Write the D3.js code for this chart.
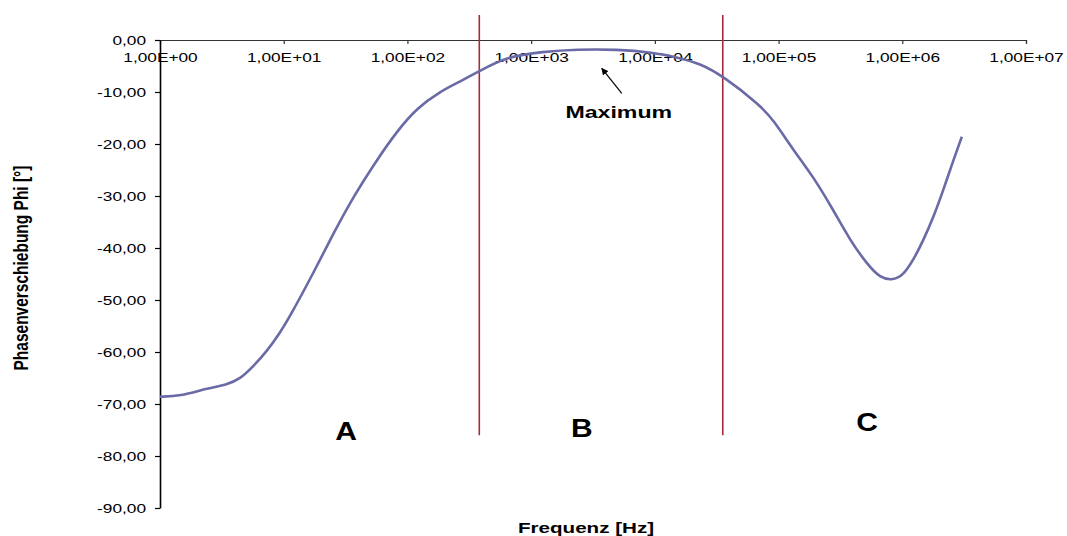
<!DOCTYPE html>
<html>
<head>
<meta charset="utf-8">
<script src="https://cdn.jsdelivr.net/npm/d3@7"></script>
<style>
  html, body { margin: 0; padding: 0; background: #fff; }
  svg { display: block; }
  text { font-family: "Liberation Sans", Arial, sans-serif; fill: #000; }
</style>
</head>
<body>
<svg id="chart" width="1067" height="536"></svg>
<script>
// Frequency sweep (Hz) and phase shift (degrees)
const frequency = [1, 1.45, 2.39, 3.46, 4.44, 5.65, 7.29, 9.33, 11.2, 17.3, 25.2, 36.6, 56.5, 82.0,
  119, 184, 266, 374, 635, 1250, 2340, 4920, 9660, 15000, 23200, 35400, 70800, 90800,
  132000, 191000, 277000, 378000, 516000, 662000, 847000, 1020000, 1230000, 1480000,
  1790000, 2150000, 2590000, 3030000];
const phase = [-68.6, -68.5, -67.0, -66.3, -65.2, -62.8, -59.9, -56.3, -53.2, -44.9, -37.2, -30.1,
  -23.1, -17.6, -13.1, -9.9, -8.0, -6.1, -3.2, -2.25, -1.8, -1.8, -2.4, -3.3, -4.5, -6.9, -12.5,
  -15.4, -21.2, -26.3, -32.7, -38.5, -43.0, -45.8, -46.2, -45.2, -42.3, -38.5, -34.0, -28.8,
  -23.1, -18.6];

// Axis ticks
const xTicks = [1e0, 1e1, 1e2, 1e3, 1e4, 1e5, 1e6, 1e7];
const xTickLabels = ["1,00E+00", "1,00E+01", "1,00E+02", "1,00E+03", "1,00E+04", "1,00E+05", "1,00E+06", "1,00E+07"];
const yTicks = [0, -10, -20, -30, -40, -50, -60, -70, -80, -90];
const yTickLabels = ["0,00", "-10,00", "-20,00", "-30,00", "-40,00", "-50,00", "-60,00", "-70,00", "-80,00", "-90,00"];

// Region boundaries (Hz) and region labels
const regionBounds = [381, 35400];
const regionNames = ["A", "B", "C"];
const regionLabelFreq = [31.9, 2570, 520000];
const regionLabelPhase = [-76.9, -76.3, -75.2];

const xTitle = "Frequenz [Hz]";
const yTitle = "Phasenverschiebung Phi [°]";
const maxLabel = "Maximum";

// Text is drawn horizontally widened
const SX = 1.33;

const svg = d3.select("#chart");
const x = d3.scaleLog().domain([1, 1e7]).range([160, 1026]);
const y = d3.scaleLinear().domain([-90, 0]).range([508, 40]);

// X axis along the 0° line, labels under it
const xAxis = d3.axisBottom(x).tickValues(xTicks).tickSize(4)
  .tickFormat((d, i) => xTickLabels[i]);
const gx = svg.append("g").attr("transform", `translate(0,${y(0)})`).call(xAxis);
gx.select(".domain").attr("stroke", "#333").attr("stroke-width", 1.2);
gx.selectAll(".tick line").attr("stroke", "#333").attr("stroke-width", 1.2);
gx.selectAll(".tick line").filter(d => d === 1).remove();
gx.selectAll(".tick text")
  .attr("y", 22).attr("dy", 0)
  .attr("transform", `scale(${SX},1)`)
  .style("font-size", "13px").style("font-family", "Liberation Sans, Arial, sans-serif");

// Y axis
const yAxis = d3.axisLeft(y).tickValues(yTicks).tickSize(5).tickSizeOuter(0)
  .tickFormat((d, i) => yTickLabels[i]);
const gy = svg.append("g").attr("transform", `translate(${x(1)},0)`).call(yAxis);
gy.select(".domain").attr("stroke", "#000").attr("stroke-width", 1.6);
gy.selectAll(".tick line").attr("stroke", "#000").attr("stroke-width", 1.2);
gy.selectAll(".tick text")
  .attr("x", -14 / SX).attr("dy", "0.36em")
  .attr("transform", `scale(${SX},1)`)
  .style("font-size", "13px").style("font-family", "Liberation Sans, Arial, sans-serif");

// Region boundaries
svg.append("g").selectAll("line").data(regionBounds).join("line")
  .attr("x1", d => x(d)).attr("x2", d => x(d))
  .attr("y1", y(0) - 25).attr("y2", y(-76))
  .attr("stroke", "#a52a3c").attr("stroke-width", 1.6);

// Phase curve
const line = d3.line()
  .x((d, i) => x(frequency[i]))
  .y(d => y(d))
  .curve(d3.curveBasis);
svg.append("path").datum(phase)
  .attr("d", line)
  .attr("fill", "none")
  .attr("stroke", "#6a6aa6")
  .attr("stroke-width", 2.6)
  .attr("stroke-linejoin", "round");

// Region labels
svg.append("g").selectAll("text").data(regionNames).join("text")
  .attr("transform", (d, i) => `translate(${x(regionLabelFreq[i])},${y(regionLabelPhase[i])}) scale(1.2,1)`)
  .attr("text-anchor", "middle")
  .style("font-size", "25px").style("font-weight", "bold")
  .text(d => d);

// Maximum annotation
const iMax = d3.maxIndex(phase);
const fMax = Math.sqrt(frequency[iMax] * frequency[iMax + 1]);
const tipX = x(fMax) + 5, tipY = y(phase[iMax]) + 19;
svg.append("defs").append("marker")
  .attr("id", "arrowhead").attr("viewBox", "0 0 10 10")
  .attr("refX", 9).attr("refY", 5)
  .attr("markerWidth", 7).attr("markerHeight", 7)
  .attr("markerUnits", "userSpaceOnUse")
  .attr("orient", "auto")
  .append("path").attr("d", "M0,0 L10,5 L0,10 Z").attr("fill", "#000");
svg.append("line")
  .attr("x1", tipX + 20).attr("y1", tipY + 25)
  .attr("x2", tipX).attr("y2", tipY)
  .attr("stroke", "#000").attr("stroke-width", 1.2)
  .attr("marker-end", "url(#arrowhead)");
svg.append("text")
  .attr("transform", `translate(${tipX + 17},${tipY + 50}) scale(1.36,1)`)
  .attr("text-anchor", "middle")
  .style("font-size", "17px").style("font-weight", "bold")
  .text(maxLabel);

// Axis titles
svg.append("text")
  .attr("transform", `translate(586,533) scale(${SX},1)`)
  .attr("text-anchor", "middle")
  .style("font-size", "15.5px").style("font-weight", "bold")
  .text(xTitle);
svg.append("text")
  .attr("transform", `translate(28,268) scale(${SX},1) rotate(-90)`)
  .attr("text-anchor", "middle")
  .style("font-size", "15.5px").style("font-weight", "bold")
  .text(yTitle);
</script>
</body>
</html>
